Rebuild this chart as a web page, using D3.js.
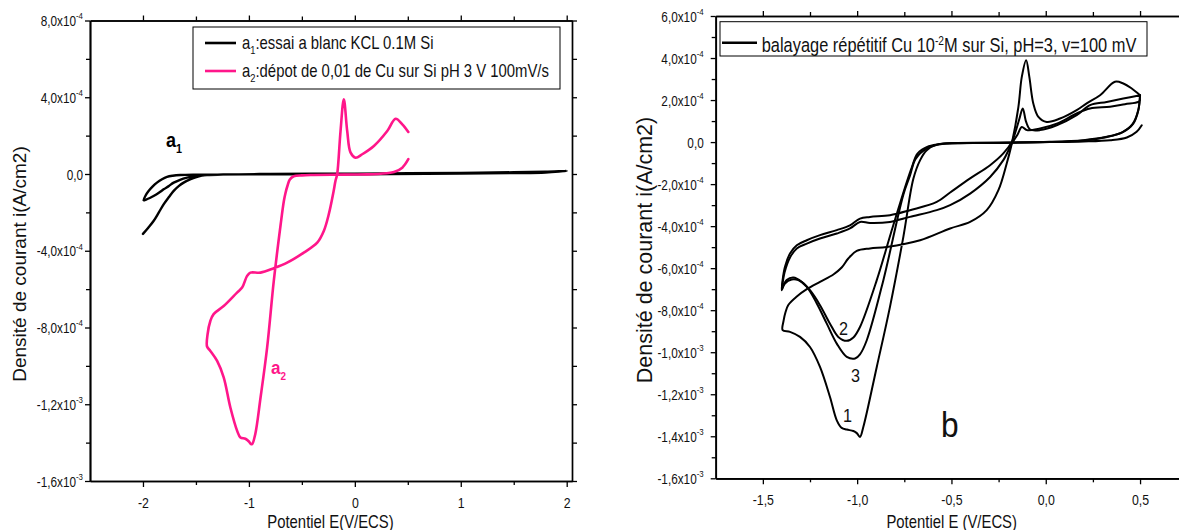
<!DOCTYPE html>
<html>
<head>
<meta charset="utf-8">
<script src="https://cdn.jsdelivr.net/npm/d3@7"></script>
<style>
  body { margin: 0; background: #fff; }
  svg { display: block; }
</style>
</head>
<body>
<svg id="chart" width="1179" height="530"></svg>
<script>
// Currents are stored in units of 1e-4 A/cm2, potentials in V/ECS.
const UNIT = 1e-4;

// ---- Panel a: blank run (a1) and Cu deposition (a2) ----
const a1Points = [
  [-2.0,-3.12],[-1.95,-2.8],[-1.9,-2.45],[-1.85,-2.0],[-1.805,-1.58],[-1.755,-1.2],[-1.71,-0.88],
  [-1.66,-0.62],[-1.616,-0.45],[-1.55,-0.27],[-1.48,-0.13],[-1.4,-0.06],[-1.2,-0.02],[-0.8,0.0],
  [-0.4,0.01],[0,0.02],[0.5,0.04],[1.0,0.06],[1.5,0.09],[1.8,0.12],[2.0,0.16],
  [1.8,0.08],[1.5,0.05],[1.0,0.02],[0.0,-0.01],[-1.0,-0.02],[-1.5,-0.03],[-1.647,-0.05],
  [-1.72,-0.09],[-1.773,-0.15],[-1.82,-0.27],[-1.868,-0.45],[-1.91,-0.66],[-1.947,-0.89],
  [-1.975,-1.12],[-1.994,-1.37],
  [-1.97,-1.33],[-1.935,-1.25],[-1.9,-1.15],[-1.85,-0.98],[-1.805,-0.8],[-1.755,-0.62],
  [-1.71,-0.45],[-1.65,-0.3],[-1.584,-0.19],[-1.5,-0.1],[-1.395,-0.05],[-1.3,-0.03]
];

const a2Points = [
  [0.505,0.77],[0.448,0.33],[0.37,0.1],[0.3,0.04],[0.117,-0.02],[-0.1,-0.03],[-0.387,-0.05],
  [-0.5,-0.07],[-0.577,-0.12],[-0.615,-0.3],[-0.635,-0.6],[-0.655,-1.0],[-0.67,-1.41],
  [-0.7,-2.62],[-0.765,-5.57],[-0.828,-9.05],[-0.89,-11.65],[-0.94,-13.56],[-0.97,-14.08],
  [-0.985,-14.05],[-1.0,-13.94],[-1.033,-13.8],[-1.08,-13.73],[-1.11,-13.4],[-1.175,-12.17],
  [-1.238,-10.6],[-1.3,-9.74],[-1.364,-9.22],[-1.395,-8.99],[-1.39,-8.35],[-1.364,-7.66],
  [-1.333,-7.3],[-1.238,-6.88],[-1.112,-6.18],[-1.064,-5.92],[-1.017,-5.31],[-0.986,-5.14],
  [-0.891,-5.14],[-0.765,-4.91],[-0.639,-4.62],[-0.482,-4.1],[-0.355,-3.58],[-0.293,-2.97],
  [-0.246,-2.1],[-0.2,-0.885],[-0.183,-0.36],[-0.167,-0.02],[-0.135,2.24],[-0.104,3.89],
  [-0.072,2.24],[-0.04,1.11],[0.007,0.85],[0.07,1.03],[0.18,1.46],[0.306,2.24],[0.385,2.88],
  [0.448,2.59],[0.505,2.19]
];

// ---- Panel b: three successive scans ----
const cycle1Points = [
  [0.509,0.8],[0.482,0.49],[0.43,0.22],[0.341,0.09],[0.2,0.03],[0,0.0],[-0.2,-0.02],
  [-0.454,-0.05],[-0.578,-0.12],[-0.631,-0.39],[-0.666,-0.86],[-0.702,-1.75],[-0.755,-4.51],
  [-0.826,-7.84],[-0.896,-10.7],[-0.967,-13.55],[-0.985,-14.03],[-1.002,-13.85],[-1.02,-13.75],
  [-1.055,-13.68],[-1.082,-13.6],[-1.108,-13.24],[-1.144,-12.13],[-1.197,-10.7],[-1.25,-9.75],
  [-1.303,-9.27],[-1.356,-9.03],[-1.395,-8.95],
  [-1.39,-8.5],[-1.38,-8.1],[-1.365,-7.75],[-1.32,-7.35],[-1.267,-7.0],[-1.197,-6.65],
  [-1.126,-6.3],[-1.082,-5.97],[-1.047,-5.54],[-1.002,-5.18],[-0.932,-5.06],[-0.843,-4.99],
  [-0.666,-4.67],[-0.507,-4.11],[-0.401,-3.8],[-0.313,-3.24],[-0.251,-2.29],[-0.207,-1.02],
  [-0.18,-0.07],[-0.145,1.68],[-0.127,3.1],[-0.104,3.9],[-0.087,3.1],[-0.066,1.84],
  [-0.039,1.2],[0.005,0.96],[0.076,1.12],[0.164,1.52],[0.217,1.84],[0.288,2.23],[0.367,2.87],
  [0.411,2.79],[0.456,2.55],[0.5,2.23]
];

const cycle2Points = [
  [0.5,2.23],[0.491,1.52],[0.464,0.88],[0.411,0.49],[0.323,0.25],[0.2,0.09],[0.02,0.01],
  [-0.3,-0.03],[-0.55,-0.08],[-0.62,-0.2],[-0.68,-0.55],[-0.71,-1.2],[-0.737,-1.9],
  [-0.82,-4.3],[-0.896,-6.57],[-0.985,-8.8],[-1.02,-9.3],[-1.055,-9.46],[-1.1,-9.27],
  [-1.144,-8.64],[-1.197,-7.76],[-1.25,-7.05],[-1.294,-6.65],[-1.338,-6.45],[-1.374,-6.57],
  [-1.395,-6.89],[-1.4,-7.0],
  [-1.395,-6.55],[-1.383,-5.94],[-1.356,-5.3],[-1.32,-4.91],[-1.267,-4.67],[-1.197,-4.43],
  [-1.108,-4.19],[-1.038,-3.96],[-0.985,-3.64],[-0.932,-3.56],[-0.826,-3.48],[-0.72,-3.24],
  [-0.578,-2.85],[-0.507,-2.4],[-0.401,-1.73],[-0.295,-1.1],[-0.225,-0.54],[-0.18,0.01],
  [-0.163,0.41],[-0.14,1.1],[-0.122,1.6],[-0.104,0.96],[-0.083,0.6],[-0.03,0.57],[0.058,0.8],
  [0.164,1.28],[0.235,1.76],[0.323,1.91],[0.411,2.07],[0.5,2.23]
];

const cycle3Points = [
  [0.5,2.23],[0.49,1.5],[0.46,0.85],[0.405,0.46],[0.32,0.23],[0.2,0.08],[0.02,0.0],
  [-0.3,-0.04],[-0.55,-0.09],[-0.63,-0.3],[-0.69,-0.8],[-0.72,-1.6],[-0.755,-2.5],
  [-0.861,-6.57],[-0.949,-9.43],[-0.985,-10.1],[-1.011,-10.3],[-1.055,-10.22],[-1.108,-9.59],
  [-1.161,-8.64],[-1.214,-7.68],[-1.267,-6.89],[-1.312,-6.57],[-1.347,-6.54],[-1.383,-6.73],
  [-1.4,-7.05],
  [-1.395,-6.7],[-1.385,-6.2],[-1.356,-5.49],[-1.32,-5.06],[-1.267,-4.83],[-1.197,-4.59],
  [-1.108,-4.35],[-1.038,-4.11],[-0.985,-3.8],[-0.932,-3.85],[-0.826,-3.8],[-0.72,-3.56],
  [-0.578,-3.24],[-0.507,-3.0],[-0.401,-2.45],[-0.295,-1.66],[-0.225,-0.86],[-0.18,-0.07],
  [-0.15,0.35],[-0.127,0.72],[-0.1,0.57],[-0.03,0.65],[0.058,0.88],[0.164,1.36],[0.235,1.6],
  [0.341,1.68],[0.42,1.8],[0.491,1.91],[0.5,2.0]
];

// ---- Tick values and labels ----
const aXTicks = [-2, -1, 0, 1, 2];
const aXLabels = ["-2", "-1", "0", "1", "2"];
const aXMinor = [-1.5, -0.5, 0.5, 1.5];
const aYTicks = [8e-4, 4e-4, 0, -4e-4, -8e-4, -1.2e-3, -1.6e-3];
const aYLabels = [["8,0x10","-4"],["4,0x10","-4"],["0,0",""],["-4,0x10","-4"],
                  ["-8,0x10","-4"],["-1,2x10","-3"],["-1,6x10","-3"]];
const aYMinor = [6e-4, 2e-4, -2e-4, -6e-4, -1e-3, -1.4e-3];

const bXTicks = [-1.5, -1.0, -0.5, 0, 0.5];
const bXLabels = ["-1,5", "-1,0", "-0,5", "0,0", "0,5"];
const bXMinor = [-1.25, -0.75, -0.25, 0.25];
const bYTicks = [6e-4, 4e-4, 2e-4, 0, -2e-4, -4e-4, -6e-4, -8e-4, -1e-3, -1.2e-3, -1.4e-3, -1.6e-3];
const bYLabels = [["6,0x10","-4"],["4,0x10","-4"],["2,0x10","-4"],["0,0",""],["-2,0x10","-4"],
                  ["-4,0x10","-4"],["-6,0x10","-4"],["-8,0x10","-4"],["-1,0x10","-3"],
                  ["-1,2x10","-3"],["-1,4x10","-3"],["-1,6x10","-3"]];
const bYMinor = [5e-4, 3e-4, 1e-4, -1e-4, -3e-4, -5e-4, -7e-4, -9e-4, -1.1e-3, -1.3e-3, -1.5e-3];

const PINK = "#ff168a";
const FONT = '"Liberation Sans", Arial, Helvetica, sans-serif';
const SX = 0.85; // horizontal squeeze applied to the horizontal texts

const svg = d3.select("#chart").style("font-family", FONT);

function styleAxis(sel, width) {
  sel.attr("font-family", FONT);
  sel.select(".domain").attr("stroke", "#000").attr("stroke-width", width);
  sel.selectAll(".tick line").attr("stroke", "#000").attr("stroke-width", 1.3);
}

function panel(o) {
  const x = d3.scaleLinear().domain(o.xDomain).range(o.xRange);
  const y = d3.scaleLinear().domain(o.yDomain).range(o.yRange);
  const left = o.xRange[0], right = o.xRange[1];
  const top = o.yRange[0], bottom = o.yRange[1];
  const g = svg.append("g");

  const line = d3.line()
    .x(d => x(d[0]))
    .y(d => y(d[1] * UNIT))
    .curve(d3.curveCatmullRom.alpha(0.5));

  const curves = g.append("g");
  o.series.forEach(s => {
    curves.append("path")
      .datum(s.points)
      .attr("d", line)
      .attr("fill", "none")
      .attr("stroke", s.color)
      .attr("stroke-width", s.width)
      .attr("stroke-linejoin", "round")
      .attr("stroke-linecap", "round");
  });

  // bottom axis
  g.append("g").attr("transform", `translate(0,${bottom})`)
    .call(d3.axisBottom(x).tickValues(o.xMinor).tickSize(4).tickSizeOuter(0).tickFormat(""))
    .call(s => styleAxis(s, 1.7));
  const gx = g.append("g").attr("transform", `translate(0,${bottom})`)
    .call(d3.axisBottom(x).tickValues(o.xTicks).tickSize(6).tickSizeOuter(0)
      .tickFormat((d, i) => o.xLabels[i]))
    .call(s => styleAxis(s, 1.7));
  gx.selectAll(".tick text")
    .attr("y", null).attr("dy", null)
    .attr("transform", `translate(0,${o.xLabelDrop}) scale(${SX},1)`)
    .attr("font-size", 14.5).attr("fill", "#111").attr("text-anchor", "middle");

  // top axis
  g.append("g").attr("transform", `translate(0,${top})`)
    .call(d3.axisTop(x).tickValues(o.xMinor).tickSize(4).tickSizeOuter(0).tickFormat(""))
    .call(s => styleAxis(s, 1.7));
  g.append("g").attr("transform", `translate(0,${top})`)
    .call(d3.axisTop(x).tickValues(o.xTicks).tickSize(5).tickSizeOuter(0).tickFormat(""))
    .call(s => styleAxis(s, 1.7));

  // left axis
  g.append("g").attr("transform", `translate(${left},0)`)
    .call(d3.axisLeft(y).tickValues(o.yMinor).tickSize(4).tickSizeOuter(0).tickFormat(""))
    .call(s => styleAxis(s, 1.7));
  const gy = g.append("g").attr("transform", `translate(${left},0)`)
    .call(d3.axisLeft(y).tickValues(o.yTicks).tickSize(5).tickSizeOuter(0)
      .tickFormat((d, i) => o.yLabels[i][0]))
    .call(s => styleAxis(s, 1.7));
  gy.selectAll(".tick text").each(function (d, i) {
    const [mant, expo] = o.yLabels[i];
    const t = d3.select(this).text(null)
      .attr("x", null).attr("dy", null)
      .attr("transform", `translate(${-o.yLabelGap},5.2) scale(0.83,1)`)
      .attr("font-size", 14.2).attr("fill", "#111").attr("text-anchor", "end");
    t.append("tspan").text(mant);
    if (expo) t.append("tspan").attr("font-size", 9.5).attr("dy", -6.8).text(expo);
  });

  // right axis
  if (o.rightAxis) {
    g.append("g").attr("transform", `translate(${right},0)`)
      .call(d3.axisRight(y).tickValues(o.yMinor.concat(o.yTicks)).tickSize(5).tickSizeOuter(0).tickFormat(""))
      .call(s => styleAxis(s, 1.7));
  }

  // axis titles
  g.append("text")
    .attr("transform", `translate(${o.yTitlePos[0]},${o.yTitlePos[1]}) rotate(-90)`)
    .attr("text-anchor", "middle")
    .attr("font-size", o.yTitleSize)
    .attr("fill", "#111")
    .text("Densité de courant i(A/cm2)");
  g.append("text")
    .attr("transform", `translate(${o.xTitlePos[0]},${o.xTitlePos[1]}) scale(${SX},1)`)
    .attr("text-anchor", "middle")
    .attr("font-size", 17.5)
    .attr("fill", "#111")
    .text(o.xTitle);

  return { g, x, y };
}

// ---------- Panel a ----------
const pa = panel({
  xDomain: [-2.5, 2.05], xRange: [90, 572],
  yDomain: [8e-4, -1.6e-3], yRange: [20.5, 481],
  xTicks: aXTicks, xLabels: aXLabels, xMinor: aXMinor,
  yTicks: aYTicks, yLabels: aYLabels, yMinor: aYMinor,
  xLabelDrop: 26.5, yLabelGap: 7, rightAxis: true,
  yTitlePos: [25.5, 264], yTitleSize: 19,
  xTitle: "Potentiel E(V/ECS)", xTitlePos: [330.5, 527.5],
  series: [
    { points: a1Points, color: "#000", width: 2.4 },
    { points: a2Points, color: PINK, width: 2.6 }
  ]
});

// legend of panel a
{
  const lg = pa.g.append("g");
  lg.append("rect").attr("x", 193).attr("y", 27).attr("width", 367).attr("height", 62)
    .attr("fill", "#fff").attr("stroke", "#000").attr("stroke-width", 1);
  const rows = [
    { color: "#000", y: 43, sub: "1", rest: ":essai a blanc KCL 0.1M Si" },
    { color: PINK, y: 71, sub: "2", rest: ":dépot de 0,01 de Cu sur Si pH 3 V 100mV/s" }
  ];
  rows.forEach(r => {
    lg.append("line").attr("x1", 205).attr("x2", 236).attr("y1", r.y).attr("y2", r.y)
      .attr("stroke", r.color).attr("stroke-width", 2.6);
    const t = lg.append("text")
      .attr("transform", `translate(242,${r.y + 5.5}) scale(${SX},1)`)
      .attr("font-size", 17.5).attr("fill", "#111");
    t.append("tspan").text("a");
    t.append("tspan").attr("font-size", 11).attr("dy", 5).text(r.sub);
    t.append("tspan").attr("dy", -5).text(r.rest);
  });
}

// curve tags of panel a
{
  const t1 = pa.g.append("text")
    .attr("transform", `translate(166,146.5) scale(0.9,1)`)
    .attr("font-size", 20).attr("font-weight", "bold").attr("fill", "#000");
  t1.append("tspan").text("a");
  t1.append("tspan").attr("font-size", 12).attr("dy", 6).text("1");
  const t2 = pa.g.append("text")
    .attr("transform", `translate(271,373.5) scale(0.9,1)`)
    .attr("font-size", 19).attr("font-weight", "bold").attr("fill", PINK);
  t2.append("tspan").text("a");
  t2.append("tspan").attr("font-size", 11).attr("dy", 6).text("2");
}

// ---------- Panel b ----------
const pb = panel({
  xDomain: [-1.75, 0.75], xRange: [715.7, 1187.2],
  yDomain: [6e-4, -1.6e-3], yRange: [16, 478.3],
  xTicks: bXTicks, xLabels: bXLabels, xMinor: bXMinor,
  yTicks: bYTicks, yLabels: bYLabels, yMinor: bYMinor,
  xLabelDrop: 27, yLabelGap: 12, rightAxis: false,
  yTitlePos: [652, 250], yTitleSize: 21.5,
  xTitle: "Potentiel E (V/ECS)", xTitlePos: [951.7, 527.5],
  series: [
    { points: cycle1Points, color: "#000", width: 2 },
    { points: cycle2Points, color: "#000", width: 2 },
    { points: cycle3Points, color: "#000", width: 2 }
  ]
});

// legend of panel b
{
  const lg = pb.g.append("g");
  lg.append("rect").attr("x", 720).attr("y", 21.7).attr("width", 427).attr("height", 34.3)
    .attr("fill", "#fff").attr("stroke", "#000").attr("stroke-width", 1);
  lg.append("line").attr("x1", 722).attr("x2", 757).attr("y1", 42.7).attr("y2", 42.7)
    .attr("stroke", "#000").attr("stroke-width", 2.6);
  const t = lg.append("text")
    .attr("transform", `translate(761.7,51.5) scale(${SX},1)`)
    .attr("font-size", 19.3).attr("fill", "#111");
  t.append("tspan").text("balayage répétitif Cu 10");
  t.append("tspan").attr("font-size", 12).attr("dy", -7).text("-2");
  t.append("tspan").attr("dy", 7).text("M sur Si, pH=3, v=100 mV");
}

// scan numbers and panel letter
{
  const tags = [
    { text: "2", x: 839, y: 335 },
    { text: "3", x: 851, y: 382 },
    { text: "1", x: 843, y: 421.5 }
  ];
  tags.forEach(d => {
    pb.g.append("text")
      .attr("transform", `translate(${d.x},${d.y}) scale(0.9,1)`)
      .attr("font-size", 18).attr("fill", "#111").text(d.text);
  });
  pb.g.append("text")
    .attr("transform", `translate(941,437) scale(0.88,1)`)
    .attr("font-size", 36).attr("fill", "#111").text("b");
}
</script>
</body>
</html>
